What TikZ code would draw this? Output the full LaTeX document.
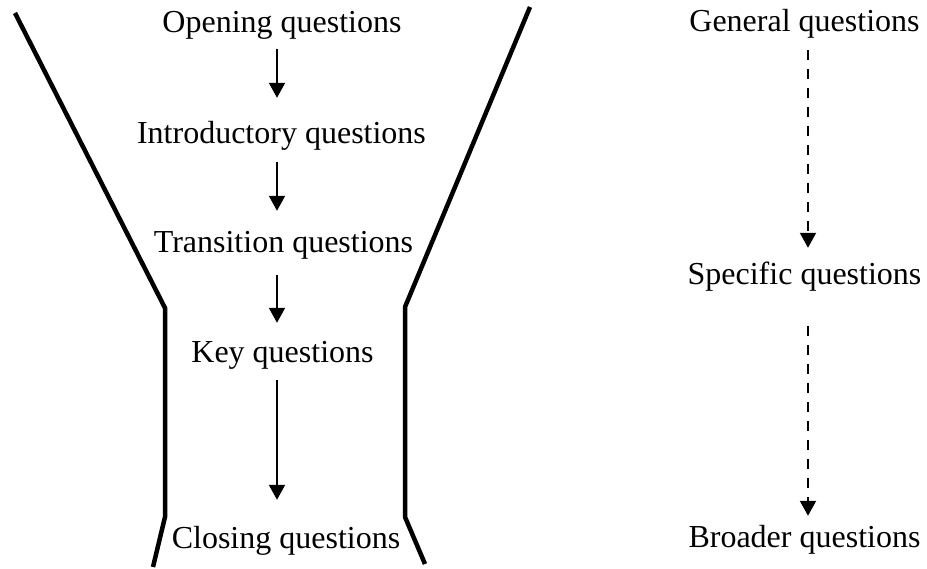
\documentclass[tikz,border=0pt]{standalone}
\usepackage{fontspec}
\setmainfont{Liberation Serif}
\usetikzlibrary{arrows.meta}
\begin{document}
\begin{tikzpicture}[x=1pt,y=-1pt,
  lbl/.style={anchor=base,inner sep=0pt,text height=22pt,text depth=7pt,font=\fontsize{32}{36}\selectfont},
  funnel/.style={line width=4.5pt},
  arr/.style={line width=2pt,-{Triangle[length=15pt,width=16pt]}},
  darr/.style={line width=2pt,dash pattern=on 10pt off 9pt,-{Triangle[length=15pt,width=16pt]}}]
\useasboundingbox (0,0) rectangle (927,569);
% funnel
\draw[funnel] (15,13) -- (165,308) -- (165,517) -- (153,567);
\draw[funnel] (530,7) -- (405,307) -- (405,517) -- (425,564);
% left column
\node[lbl] (open) at (282,33) {Opening questions};
\node[lbl] (intro) at (281.5,144) {Introductory questions};
\node[lbl] (trans) at (283.5,253) {Transition questions};
\node[lbl] (key) at (282.5,363) {Key questions};
\node[lbl] (close) at (286,548) {Closing questions};
\coordinate (ax) at (277,0);
\draw[arr,shorten <=9pt,shorten >=24pt] (open.south -| ax) -- (intro.north -| ax);
\draw[arr,shorten <=11pt,shorten >=20pt] (intro.south -| ax) -- (trans.north -| ax);
\draw[arr,shorten <=15pt,shorten >=18pt] (trans.south -| ax) -- (key.north -| ax);
\draw[arr,shorten <=10pt,shorten >=26pt] (key.south -| ax) -- (close.north -| ax);
% right column
\node[lbl] (gen) at (804.5,32) {General questions};
\node[lbl] (spec) at (804.5,285) {Specific questions};
\node[lbl] (broad) at (804.5,547) {Broader questions};
\coordinate (bx) at (808,0);
\draw[darr,shorten <=11pt,shorten >=15pt] (gen.south -| bx) -- (spec.north -| bx);
\draw[darr,shorten <=34pt,shorten >=9pt] (spec.south -| bx) -- (broad.north -| bx);
\end{tikzpicture}
\end{document}
